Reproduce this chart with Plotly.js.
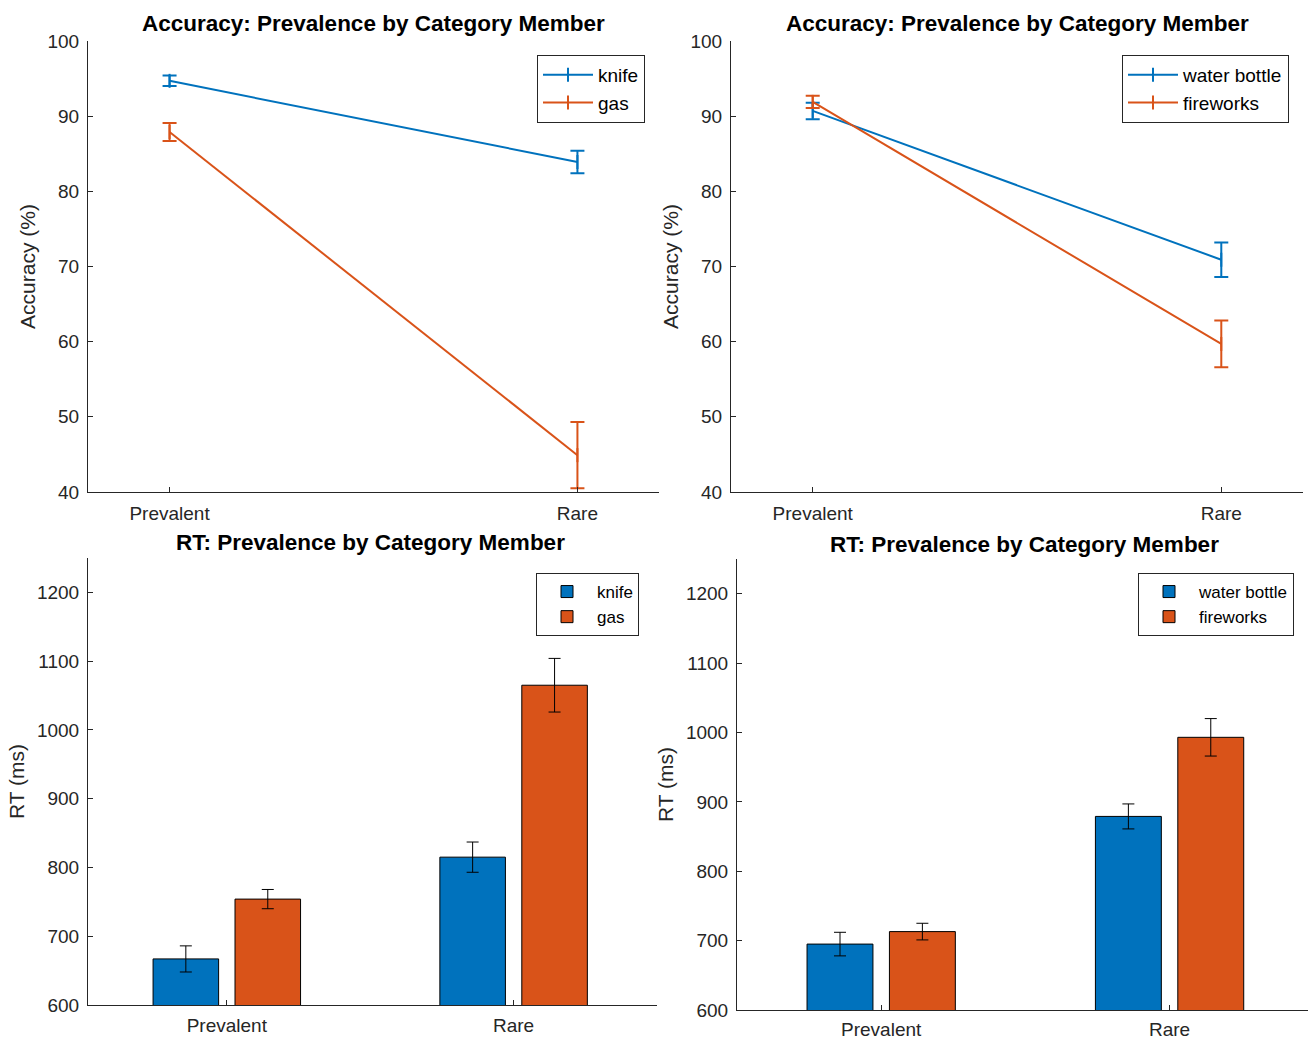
<!DOCTYPE html>
<html>
<head>
<meta charset="utf-8">
<script src="https://cdn.plot.ly/plotly-3.0.1.min.js"></script>
<style>html,body{margin:0;padding:0;background:#fff;}#chart{width:1309px;height:1042px;}</style>
</head>
<body>
<div id="chart"></div>
<script>
// ---- data ----
const categories = ['Prevalent', 'Rare'];

// Accuracy (%) panel 1
const accKnife = [94.7, 83.9];
const accKnifeErr = [0.7, 1.5];
const accGas = [87.9, 44.9];
const accGasErr = [1.2, 4.4];

// Accuracy (%) panel 2
const accWater = [90.7, 70.9];
const accWaterErr = [1.1, 2.3];
const accFireworks = [91.9, 59.7];
const accFireworksErr = [0.8, 3.1];

// RT (ms) panel 3
const rtKnife = [667, 815];
const rtKnifeErr = [19, 22];
const rtGas = [754, 1065];
const rtGasErr = [14, 39];

// RT (ms) panel 4
const rtWater = [695, 879];
const rtWaterErr = [17, 18];
const rtFireworks = [713, 993];
const rtFireworksErr = [12, 27];

const panelTitles = ['Accuracy: Prevalence by Category Member', 'Accuracy: Prevalence by Category Member',
                     'RT: Prevalence by Category Member', 'RT: Prevalence by Category Member'];
const yTitles = ['Accuracy (%)', 'Accuracy (%)', 'RT (ms)', 'RT (ms)'];

// ---- style ----
const BLUE = '#0072BD';
const ORANGE = '#D95319';
const AX = '#262626';
const FONT = 'Liberation Sans, Arial, Helvetica, sans-serif';

function lineTrace(y, err, name, color, xa, ya, leg) {
  return {
    type: 'scatter', mode: 'lines+markers', x: categories, y: y, name: name,
    xaxis: xa, yaxis: ya, legend: leg,
    line: {color: color, width: 2},
    marker: {symbol: 'line-ns', size: 10, color: color, line: {color: color, width: 2}},
    error_y: {type: 'data', array: err, visible: true, color: color, thickness: 2, width: 7},
    cliponaxis: false
  };
}
function barTrace(y, err, name, color, xa, ya, leg) {
  return {
    type: 'bar', x: categories, y: y, name: name,
    xaxis: xa, yaxis: ya, legend: leg,
    marker: {color: color, line: {color: '#000', width: 1}},
    error_y: {type: 'data', array: err, visible: true, color: '#000', thickness: 1, width: 6}
  };
}

const data = [
  lineTrace(accKnife, accKnifeErr, 'knife', BLUE, 'x', 'y', 'legend'),
  lineTrace(accGas, accGasErr, 'gas', ORANGE, 'x', 'y', 'legend'),
  lineTrace(accWater, accWaterErr, 'water bottle', BLUE, 'x2', 'y2', 'legend2'),
  lineTrace(accFireworks, accFireworksErr, 'fireworks', ORANGE, 'x2', 'y2', 'legend2'),
  barTrace(rtKnife, rtKnifeErr, 'knife', BLUE, 'x3', 'y3', 'legend3'),
  barTrace(rtGas, rtGasErr, 'gas', ORANGE, 'x3', 'y3', 'legend3'),
  barTrace(rtWater, rtWaterErr, 'water bottle', BLUE, 'x4', 'y4', 'legend4'),
  barTrace(rtFireworks, rtFireworksErr, 'fireworks', ORANGE, 'x4', 'y4', 'legend4')
];

const W = 1309, H = 1042;
function px(x) { return x / W; }
function py(y) { return 1 - y / H; }

function xAxis(domain, range, standoff) {
  return {
    domain: domain, range: range, type: 'category',
    showline: true, linecolor: AX, linewidth: 1, mirror: false,
    ticks: 'inside', ticklen: 5, tickcolor: AX, tickwidth: 1,
    showgrid: false, zeroline: false, fixedrange: true,
    tickfont: {family: FONT, size: 19, color: AX}, ticklabelstandoff: standoff
  };
}
function yAxis(domain, range, dtick, title, anchor) {
  return {
    domain: domain, range: range, dtick: dtick, anchor: anchor,
    showline: true, linecolor: AX, linewidth: 1, mirror: false,
    ticks: 'inside', ticklen: 5, tickcolor: AX, tickwidth: 1,
    showgrid: false, zeroline: false, fixedrange: true,
    tickfont: {family: FONT, size: 19, color: AX}, ticklabelstandoff: 4,
    title: {text: title, font: {family: FONT, size: 21, color: AX}, standoff: 6}
  };
}
function legendBox(x, y, size) {
  return {
    x: x, y: y, xanchor: 'left', yanchor: 'top', xref: 'paper', yref: 'paper',
    bgcolor: '#fff', bordercolor: AX, borderwidth: 1, itemwidth: 50,
    font: {family: FONT, size: size, color: '#000'}, tracegroupgap: 0
  };
}

const layout = {
  width: W, height: H,
  margin: {l: 0, r: 0, t: 0, b: 0},
  paper_bgcolor: '#fff', plot_bgcolor: '#fff',
  font: {family: FONT, color: AX},
  barmode: 'group', bargap: 0.4286, bargroupgap: 0.2,
  showlegend: true,
  xaxis: Object.assign(xAxis([px(88), px(659)], [-0.2, 1.2], 4), {anchor: 'y'}),
  yaxis: yAxis([py(492), py(41)], [40, 100], 10, yTitles[0], 'x'),
  xaxis2: Object.assign(xAxis([px(731), px(1303)], [-0.2, 1.2], 4), {anchor: 'y2'}),
  yaxis2: yAxis([py(492), py(41)], [40, 100], 10, yTitles[1], 'x2'),
  xaxis3: Object.assign(xAxis([px(88), px(657)], [-0.484, 1.5], 3), {anchor: 'y3'}),
  yaxis3: yAxis([py(1005), py(558)], [600, 1250], 100, yTitles[2], 'x3'),
  xaxis4: Object.assign(xAxis([px(737), px(1308)], [-0.5, 1.48], 2), {anchor: 'y4'}),
  yaxis4: yAxis([py(1010), py(559)], [600, 1250], 100, yTitles[3], 'x4'),
  legend: legendBox(px(537), py(55), 19),
  legend2: legendBox(px(1122), py(55), 19),
  legend3: legendBox(px(536), py(573), 17),
  legend4: legendBox(px(1138), py(573), 17),
  annotations: [
    {text: '<b>' + panelTitles[0] + '</b>', x: px(373), y: py(24)},
    {text: '<b>' + panelTitles[1] + '</b>', x: px(1017), y: py(24)},
    {text: '<b>' + panelTitles[2] + '</b>', x: px(370), y: py(542)},
    {text: '<b>' + panelTitles[3] + '</b>', x: px(1024), y: py(544)}
  ].map(a => Object.assign(a, {xref: 'paper', yref: 'paper', xanchor: 'center', yanchor: 'middle',
        showarrow: false, font: {family: FONT, size: 22.5, color: '#000'}}))
};

Plotly.newPlot('chart', data, layout, {displayModeBar: false, staticPlot: true});
</script>
</body>
</html>
